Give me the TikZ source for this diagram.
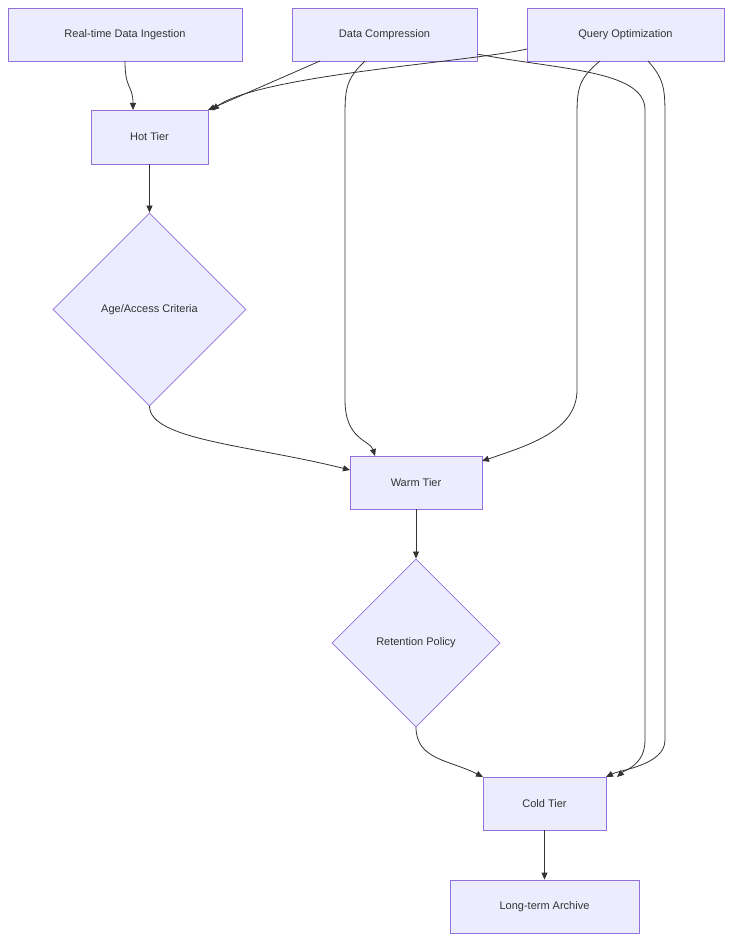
\documentclass[tikz,border=0pt]{standalone}
\usepackage{fontspec}
\setmainfont{Liberation Sans}
\usetikzlibrary{shapes.geometric,arrows.meta}
\definecolor{nfill}{HTML}{ECECFF}
\definecolor{nstroke}{HTML}{9370DB}
\definecolor{ink}{HTML}{333333}
\begin{document}
\begin{tikzpicture}[x=1pt,y=-1pt,
  box/.style={draw=nstroke,fill=nfill,line width=0.8pt,text=ink,font=\fontsize{11}{13}\selectfont,inner sep=0pt},
  dia/.style={draw=nstroke,fill=nfill,line width=0.8pt,text=ink,font=\fontsize{11}{13}\selectfont,diamond,inner sep=0pt,aspect=1},
  edge/.style={draw=ink,line width=0.8pt,-{Triangle[length=7pt,width=6pt]}}]
\useasboundingbox (0,0) rectangle (741,952);
\node[box,minimum width=234pt,minimum height=53pt] (ing) at (125,34.5) {Real-time Data Ingestion};
\node[box,minimum width=185pt,minimum height=53pt] (comp) at (384.5,34.5) {Data Compression};
\node[box,minimum width=197pt,minimum height=53pt] (qo) at (625.5,34.5) {Query Optimization};
\node[box,minimum width=117pt,minimum height=54pt] (hot) at (149.5,137) {Hot Tier};
\node[dia,minimum width=193pt,minimum height=193pt] (age) at (149.5,309.5) {Age/Access Criteria};
\node[box,minimum width=132pt,minimum height=53pt] (warm) at (416,482.5) {Warm Tier};
\node[dia,minimum width=168pt,minimum height=168pt] (ret) at (416,643) {Retention Policy};
\node[box,minimum width=123pt,minimum height=53pt] (cold) at (544.5,803.5) {Cold Tier};
\node[box,minimum width=189pt,minimum height=53pt] (arch) at (544.5,906.5) {Long-term Archive};

\coordinate (c1) at (125,61);
\draw[edge] (c1) .. controls (125,90) and (133,85) .. (133,110);
\coordinate (c2) at (320,61);
\draw[edge] (c2) -- (208,110);
\coordinate (q1) at (527,49);
\draw[edge] (q1) .. controls (470,62) and (260,75) .. (212,110);
\coordinate (c3) at (365,61);
\draw[edge] (c3) .. controls (345,80) and (345,90) .. (345,120) -- (345,400) .. controls (345,440) and (370,440) .. (375,456);
\coordinate (c4) at (477,54);
\draw[edge] (c4) .. controls (560,70) and (645,70) .. (645,110) -- (645,740) .. controls (645,765) and (625,770) .. (617,777);
\coordinate (q2) at (600,61);
\draw[edge] (q2) .. controls (577,80) and (577,90) .. (577,120) -- (577,390) .. controls (577,430) and (530,445) .. (482,461);
\coordinate (q3) at (648,61);
\draw[edge] (q3) .. controls (665,80) and (665,90) .. (665,120) -- (665,740) .. controls (665,765) and (620,770) .. (606,777);
\draw[edge] (hot) -- (age);
\coordinate (a1) at (149.5,406);
\draw[edge] (a1) .. controls (149.5,440) and (250,445) .. (350,470);
\draw[edge] (warm) -- (ret);
\coordinate (r1) at (416,727);
\draw[edge] (r1) .. controls (416,760) and (450,760) .. (483,777);
\draw[edge] (cold) -- (arch);
\end{tikzpicture}
\end{document}
